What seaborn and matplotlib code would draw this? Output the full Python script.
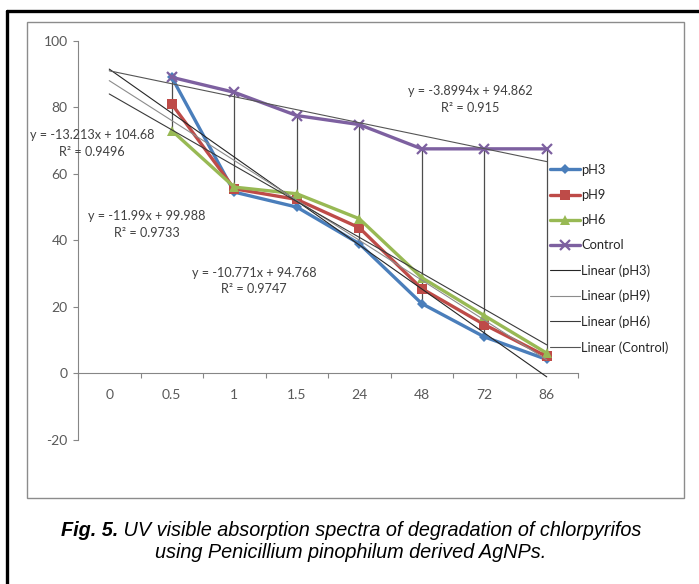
import numpy as np
import pandas as pd
import matplotlib
matplotlib.use("Agg")
import matplotlib.pyplot as plt
import seaborn as sns
from matplotlib.lines import Line2D
from matplotlib.patches import Rectangle

# ---------------- data ----------------
categories = ["0", "0.5", "1", "1.5", "24", "48", "72", "86"]
ph3 = [np.nan, 89, 54.5, 50, 39, 21, 11, 4.2]
ph9 = [np.nan, 81, 55.5, 52.3, 43.8, 25.5, 14.7, 5.1]
ph6 = [np.nan, 73, 56, 54, 46.5, 28.8, 17.4, 6.1]
control = [np.nan, 89, 84.5, 77.5, 74.8, 67.5, 67.5, 67.5]
series_names = ["pH3", "pH9", "pH6", "Control"]
trend_slopes = [-13.213, -11.99, -10.771, -3.8994]
trend_intercepts = [104.68, 99.988, 94.768, 94.862]
trend_r2 = ["0.9496", "0.9733", "0.9747", "0.915"]
yticks = [-20, 0, 20, 40, 60, 80, 100]

# ---------------- style ----------------
sns.set_theme(style="white")
plt.rcParams["font.family"] = ["Lato", "DejaVu Sans"]

W, H = 699, 584
fig = plt.figure(figsize=(W / 100, H / 100), dpi=100)

def fx(px):
    return px / W

def fy(py):
    return 1 - py / H

ax_left, ax_right, ax_top, ax_bot = 78, 578, 40.7, 440
ax = fig.add_axes([fx(ax_left), fy(ax_bot), fx(ax_right - ax_left), (ax_bot - ax_top) / H])
ax.set_facecolor("none")

pos = np.arange(len(categories))
values = {"pH3": ph3, "pH9": ph9, "pH6": ph6, "Control": control}
df = pd.DataFrame([
    {"pos": p, "series": s, "value": v}
    for s in series_names for p, v in zip(pos, values[s])
]).dropna()

colors = {"pH3": "#4A7EBB", "pH9": "#BE4B48", "pH6": "#98B954", "Control": "#7D60A0"}
markers = {"pH3": "D", "pH9": "s", "pH6": "^", "Control": "x"}
msizes = {"pH3": 5.5, "pH9": 7.5, "pH6": 7.5, "Control": 7}

# high-low lines
arr = np.array([ph3, ph9, ph6, control], dtype=float)
valid = ~np.isnan(arr).all(axis=0)
ax.vlines(pos[valid], np.nanmin(arr[:, valid], axis=0), np.nanmax(arr[:, valid], axis=0),
          color="#4d4d4d", lw=0.9, zorder=1)

for s in series_names:
    sub = df[df["series"] == s]
    sns.lineplot(data=sub, x="pos", y="value", ax=ax, color=colors[s], lw=2.4,
                 marker=markers[s], markersize=msizes[s], markeredgewidth=1.6 if s == "Control" else 0,
                 markeredgecolor=colors[s], zorder=3, legend=False)

# trend lines (Excel x index = position + 1)
trend_colors = ["#262626", "#8c8c8c", "#3a3a3a", "#555555"]
xi = pos + 1
for m, b, c in zip(trend_slopes, trend_intercepts, trend_colors):
    ax.plot(pos, m * xi + b, color=c, lw=0.8, zorder=4)

# axes styling
axis_col = "#868686"
ax.set_xlim(-0.5, len(categories) - 0.5)
ax.set_ylim(-20, 100)
ax.set_yticks(yticks)
ax.set_yticklabels([str(t) for t in yticks])
ax.set_xticks(pos)
ax.set_xticklabels(categories)
ax.set_xticks(np.arange(-0.5, len(categories)), minor=True)
ax.set_xlabel("")
ax.set_ylabel("")
for sp in ["top", "right"]:
    ax.spines[sp].set_visible(False)
ax.spines["left"].set_color(axis_col)
ax.spines["left"].set_linewidth(0.8)
ax.spines["bottom"].set_position(("data", 0))
ax.spines["bottom"].set_color(axis_col)
ax.spines["bottom"].set_linewidth(0.8)
ax.tick_params(axis="y", which="major", direction="out", length=3.5, width=0.8, color=axis_col,
               labelsize=10, labelcolor="#595959", pad=4, left=True)
ax.tick_params(axis="x", which="major", length=0, labelsize=10, labelcolor="#595959", pad=11)
ax.tick_params(axis="x", which="minor", direction="out", length=3.5, width=0.8, color=axis_col, bottom=True)

# legend
handles = [Line2D([], [], color=colors[s], lw=2.4, marker=markers[s], markersize=msizes[s],
                  markeredgewidth=1.6 if s == "Control" else 0, markeredgecolor=colors[s])
           for s in series_names]
handles += [Line2D([], [], color=c, lw=0.8) for c in trend_colors]
labels = series_names + [f"Linear ({s})" for s in series_names]
fig.legend(handles, labels, loc="upper left", bbox_to_anchor=(fx(550), fy(164)),
           frameon=False, fontsize=9.3, handlelength=2.3, handletextpad=0.12,
           labelspacing=1.01, borderpad=0, borderaxespad=0, labelcolor="#262626")

# equation labels
eq_pos = [((92, 135), (92, 152)), ((147, 216), (147, 233)), ((254, 273), (254, 289)), ((470, 91), (470, 108))]
for m, b, r2, ((ex, ey), (rx, ry)) in zip(trend_slopes, trend_intercepts, trend_r2, eq_pos):
    fig.text(fx(ex), fy(ey), f"y = {m:g}x + {b:g}", ha="center", va="center", fontsize=9.1, color="#404040")
    fig.text(fx(rx), fy(ry), f"R² = {r2}", ha="center", va="center", fontsize=9.1, color="#404040")

# frames
fig.add_artist(Rectangle((fx(27), fy(498)), fx(684 - 27), (498 - 22) / H, transform=fig.transFigure,
                         fill=False, edgecolor="#8c8c8c", lw=1.0))
fig.add_artist(Line2D([fx(7), fx(7)], [0, fy(11)], transform=fig.transFigure, color="black", lw=2.4))
fig.add_artist(Line2D([fx(7), 1], [fy(11), fy(11)], transform=fig.transFigure, color="black", lw=2.4))

# caption
cap_font = ["Liberation Sans", "DejaVu Sans"]
cap_size = 14.3
renderer = fig.canvas.get_renderer()

def caption_line(parts, cy, cx=351):
    texts = []
    for txt, weight in parts:
        t = fig.text(0, fy(cy), txt, ha="left", va="center", fontsize=cap_size, style="italic",
                     weight=weight, family=cap_font, color="black")
        texts.append(t)
    widths = [t.get_window_extent(renderer).width for t in texts]
    x = cx - sum(widths) / 2
    for t, w in zip(texts, widths):
        t.set_x(fx(x))
        x += w

caption_line([("Fig. 5.", "bold"), (" UV visible absorption spectra of degradation of chlorpyrifos", "normal")], 531)
caption_line([("using Penicillium pinophilum derived AgNPs.", "normal")], 553)

fig.savefig("out.png", dpi=100)
